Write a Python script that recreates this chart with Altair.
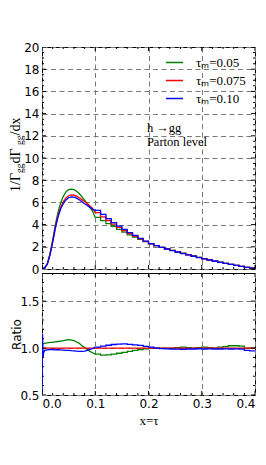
import altair as alt
import pandas as pd

# ---------------- data ----------------
series_names = ["τₘ=0.05", "τₘ=0.075", "τₘ=0.10"]
series_colors = ["#008000", "#ff0000", "#0000ff"]

# fine bins (x < 0.1) and coarse bins (0.1 .. 0.4, last entry is the closing edge)
fine_x = [round(0.005 * i, 3) for i in range(21)]
coarse_x = [round(0.10 + 0.01 * i, 2) for i in range(31)]

top_fine_green = [0, 0.1, 0.48, 1.38, 2.6, 3.98, 5.1, 5.95, 6.55, 6.95, 7.15,
                  7.2, 7.15, 7.0, 6.8, 6.5, 6.2, 5.88, 5.55, 5.2, 4.65]
top_fine_red = [0, 0.1, 0.45, 1.3, 2.45, 3.75, 4.8, 5.55, 6.05, 6.4, 6.6,
                6.68, 6.66, 6.56, 6.42, 6.25, 6.08, 5.9, 5.68, 5.45, 5.08]
top_fine_blue = [0, 0.1, 0.44, 1.27, 2.4, 3.65, 4.68, 5.4, 5.9, 6.22, 6.42,
                 6.5, 6.48, 6.38, 6.24, 6.06, 5.88, 5.72, 5.55, 5.4, 5.28]

top_coarse_green = [4.65, 4.35, 4.08, 3.85, 3.57, 3.33, 3.08, 2.88, 2.67, 2.46,
                    2.26, 2.1, 1.95, 1.81, 1.67, 1.55, 1.42, 1.29, 1.17, 1.04,
                    0.93, 0.82, 0.71, 0.61, 0.51, 0.42, 0.33, 0.23, 0.15, 0.07, 0.0]
top_coarse_red = [5.08, 4.7, 4.37, 4.05, 3.75, 3.45, 3.18, 2.95, 2.72, 2.48,
                  2.27, 2.1, 1.95, 1.81, 1.67, 1.54, 1.41, 1.28, 1.16, 1.04,
                  0.92, 0.81, 0.71, 0.6, 0.5, 0.41, 0.32, 0.23, 0.15, 0.07, 0.0]
top_coarse_blue = [5.28, 4.92, 4.53, 4.17, 3.87, 3.57, 3.27, 3.03, 2.76, 2.52,
                   2.28, 2.1, 1.95, 1.8, 1.66, 1.53, 1.39, 1.27, 1.15, 1.03,
                   0.91, 0.81, 0.7, 0.6, 0.5, 0.41, 0.32, 0.23, 0.15, 0.07, 0.0]

ratio_fine_green = [1.04, 1.05, 1.055, 1.06, 1.06, 1.065, 1.07, 1.075, 1.08, 1.085, 1.09,
                    1.085, 1.08, 1.065, 1.05, 1.025, 1.005, 0.985, 0.965, 0.95, 0.935]
ratio_fine_blue_x = [0.0, 0.001, 0.002, 0.003] + fine_x[1:]
ratio_fine_blue = [0.5, 1.15, 0.9, 0.95,
                   0.975, 0.98, 0.985, 0.985, 0.98, 0.985, 0.98, 0.978, 0.975, 0.976,
                   0.972, 0.97, 0.968, 0.965, 0.965, 0.968, 0.975, 0.985, 0.995, 1.01]
ratio_red_x = [0.0, 0.1]
ratio_red = [1.0, 1.0]
ratio_coarse_green = [0.935, 0.925, 0.927, 0.935, 0.945, 0.955, 0.965, 0.975, 0.985, 0.993,
                      1.0, 1.0, 1.0, 0.998, 1.0, 1.005, 1.01, 1.005, 1.0, 1.005,
                      1.01, 1.005, 1.0, 1.01, 1.015, 1.025, 1.025, 1.02, 1.0, 1.0, 1.0]
ratio_coarse_blue = [1.01, 1.02, 1.03, 1.038, 1.043, 1.045, 1.04, 1.035, 1.028, 1.018,
                     1.01, 1.0, 0.995, 0.992, 0.99, 0.988, 0.987, 0.99, 0.99, 0.993,
                     0.99, 0.992, 0.99, 0.99, 0.992, 0.99, 0.992, 0.988, 0.975, 0.97, 0.97]
ratio_coarse_red_x = [0.1, 0.4]
ratio_coarse_red = [1.0, 1.0]

# axes / ticks
x_major = [0.0, 0.1, 0.2, 0.3, 0.4]
x_minor = [round(0.02 * i, 2) for i in range(21) if i % 5 != 0]
top_y_major = list(range(0, 21, 2))
top_y_minor = [0.5 * i for i in range(41) if i % 4 != 0]
ratio_y_major = [0.5, 1.0, 1.5]
ratio_y_minor = [round(0.5 + 0.1 * i, 1) for i in range(14) if i % 5 != 0]

annot_x = [0.197, 0.197]
annot_y = [12.3, 11.1]
annot_text = ["h →gg", "Parton level"]

W, H_TOP, H_RAT = 213, 222, 122
SERIF = "Liberation Serif"
GRID = dict(grid=True, gridColor="#7a7a7a", gridDash=[5, 3.5], gridWidth=1,
            ticks=False, domain=False)


def frame(xs, ys, name, part):
    return pd.DataFrame({"x": xs, "y": ys, "s": name, "part": part})


top_df = pd.concat([
    frame(fine_x, top_fine_green, series_names[0], "fine"),
    frame(fine_x, top_fine_red, series_names[1], "fine"),
    frame(fine_x, top_fine_blue, series_names[2], "fine"),
    frame(coarse_x, top_coarse_green, series_names[0], "coarse"),
    frame(coarse_x, top_coarse_red, series_names[1], "coarse"),
    frame(coarse_x, top_coarse_blue, series_names[2], "coarse"),
])
ratio_df = pd.concat([
    frame(fine_x, ratio_fine_green, series_names[0], "fine"),
    frame(ratio_red_x, ratio_red, series_names[1], "fine"),
    frame(ratio_fine_blue_x, ratio_fine_blue, series_names[2], "fine"),
    frame(coarse_x, ratio_coarse_green, series_names[0], "coarse"),
    frame(ratio_coarse_red_x, ratio_coarse_red, series_names[1], "coarse"),
    frame(coarse_x, ratio_coarse_blue, series_names[2], "coarse"),
])


def tick_layers(xmaj, xmin, ymaj, ymin, xenc, yenc, h):
    xt = pd.DataFrame({"x": xmaj + xmin, "len": [8] * len(xmaj) + [4] * len(xmin)})
    yt = pd.DataFrame({"y": ymaj + ymin, "len": [8] * len(ymaj) + [4] * len(ymin)})
    layers = []
    for ypix in (0, h):
        layers.append(alt.Chart(xt).mark_tick(orient="vertical", clip=True, color="black",
                                              thickness=1, opacity=1).encode(
            x=xenc, y=alt.value(ypix), size=alt.Size("len:Q", scale=None)))
    for xpix in (0, W):
        layers.append(alt.Chart(yt).mark_tick(orient="horizontal", clip=True, color="black",
                                              thickness=1, opacity=1).encode(
            y=yenc, x=alt.value(xpix), size=alt.Size("len:Q", scale=None)))
    return layers


color_top = alt.Color("s:N", scale=alt.Scale(domain=series_names, range=series_colors),
                      legend=alt.Legend(title=None, orient="none", legendX=123, legendY=6,
                                        symbolType="stroke", symbolSize=289,
                                        symbolStrokeWidth=1.5, labelFont=SERIF,
                                        labelFontSize=13, labelColor="black",
                                        labelOffset=12, rowPadding=1, padding=0))
color_rat = alt.Color("s:N", scale=alt.Scale(domain=series_names, range=series_colors),
                      legend=None)

xs_top = alt.X("x:Q", scale=alt.Scale(domain=[0, 0.4], nice=False, zero=False, padding=0),
               axis=alt.Axis(values=x_major, labels=False, title=None, **GRID))
ys_top = alt.Y("y:Q", scale=alt.Scale(domain=[0, 20], nice=False, zero=False, padding=0),
               axis=alt.Axis(values=top_y_major, format="d", labelPadding=3,
                             title=None, **GRID))

base_top = alt.Chart(top_df)
top_fine_line = base_top.transform_filter("datum.part == 'fine'").mark_line(
    strokeWidth=1.3, clip=True).encode(x=xs_top, y=ys_top, color=color_top)
top_coarse_line = base_top.transform_filter("datum.part == 'coarse'").mark_line(
    strokeWidth=1.3, interpolate="step-after", clip=True).encode(x=xs_top, y=ys_top, color=color_top)

annot = alt.Chart(pd.DataFrame({"x": annot_x, "y": annot_y, "t": annot_text})).mark_text(
    align="left", baseline="alphabetic", font=SERIF, fontSize=12.5, color="black").encode(
    x=xs_top, y=ys_top, text="t:N")

# y-axis title of the top panel, built from pieces so that "gg" can be a subscript
title_pieces = [("1/Γ", 145, 14, -22), ("gg", 126, 9.5, -19.5), (" dΓ", 116.5, 14, -22),
                ("gg", 98, 9.5, -19.5), ("/dx", 88.5, 14, -22)]
title_layers = []
for txt, py, fs, px in title_pieces:
    title_layers.append(alt.Chart(pd.DataFrame({"a": [0]})).mark_text(
        text=txt, angle=270, align="left", baseline="alphabetic", font=SERIF,
        fontSize=fs, color="black").encode(x=alt.value(px), y=alt.value(py)))

top = alt.layer(top_fine_line, top_coarse_line, annot, *title_layers,
                *tick_layers(x_major, x_minor, top_y_major, top_y_minor, xs_top, ys_top, H_TOP)
                ).properties(width=W, height=H_TOP)

xs_rat = alt.X("x:Q", scale=alt.Scale(domain=[0, 0.4], nice=False, zero=False, padding=0),
               axis=alt.Axis(values=x_major, format=".1f", labelPadding=3, title="x=τ",
                             titleFont=SERIF, titleFontSize=13, titleFontWeight="normal",
                             titlePadding=5, **GRID))
ys_rat = alt.Y("y:Q", scale=alt.Scale(domain=[0.5, 1.8], nice=False, zero=False, padding=0),
               axis=alt.Axis(values=ratio_y_major, format=".1f", labelPadding=3,
                             title="Ratio", titleFont="DejaVu Sans", titleFontSize=12,
                             titleFontWeight="normal", titleX=-22, titleY=61,
                             titleAngle=270, titleAlign="center",
                             titleBaseline="alphabetic", **GRID))
base_rat = alt.Chart(ratio_df)
rat_fine = base_rat.transform_filter("datum.part == 'fine'").mark_line(
    strokeWidth=1.3, clip=True).encode(x=xs_rat, y=ys_rat, color=color_rat)
rat_coarse = base_rat.transform_filter("datum.part == 'coarse'").mark_line(
    strokeWidth=1.3, interpolate="step-after", clip=True).encode(x=xs_rat, y=ys_rat, color=color_rat)

bottom = alt.layer(rat_fine, rat_coarse,
                   *tick_layers(x_major, x_minor, ratio_y_major, ratio_y_minor, xs_rat, ys_rat, H_RAT)
                   ).properties(width=W, height=H_RAT)

chart = alt.vconcat(top, bottom, spacing=4, bounds="flush").resolve_scale(
    color="independent").properties(
    padding={"left": 0, "top": 32, "right": 0, "bottom": 0}
).configure_view(stroke="black", strokeWidth=1).configure_axis(
    labelFont="DejaVu Sans", labelFontSize=12, labelColor="black", titleColor="black")

chart.save("out.html", embed_options={"renderer": "svg", "actions": False})
